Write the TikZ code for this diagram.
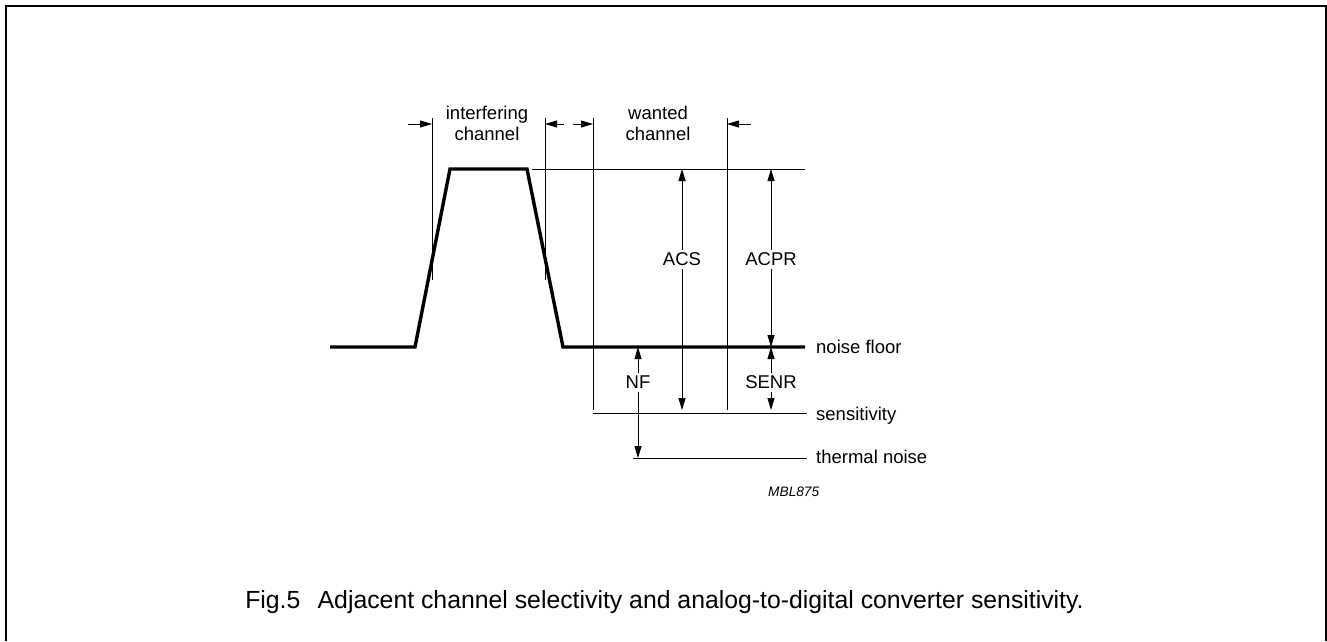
\documentclass[tikz,border=0pt]{standalone}
\usepackage{fontspec}
\setmainfont{Liberation Sans}
\usetikzlibrary{arrows.meta}
\begin{document}
\begin{tikzpicture}[x=1pt,y=-1pt,
  thinline/.style={line width=0.9pt},
  curve/.style={line width=3.4pt},
  frameline/.style={line width=2pt},
  dimarr/.style={line width=0.9pt,-{Triangle[length=12pt,width=7pt]}},
  lbl/.style={font=\fontsize{18.5}{21}\selectfont, inner sep=0pt},
  midlbl/.style={font=\fontsize{18.5}{21}\selectfont, inner sep=3pt},
]
\useasboundingbox (0,0) rectangle (1327,641);
% frame
\draw[frameline] (6,641) -- (6,6) -- (1326,6) -- (1326,641);

% spectrum curve
\coordinate (nf0) at (330,347);
\coordinate (nfA) at (415,347);
\coordinate (pk1) at (450,169);
\coordinate (pk2) at (527,169);
\coordinate (nfB) at (563,347);
\coordinate (nf1) at (805,347);
\draw[curve] (nf0) -- (nfA) -- (pk1) -- (pk2) -- (nfB) -- (nf1);

% reference lines
\coordinate (peakL) at (532,169);
\coordinate (peakR) at (805,169);
\draw[thinline] (peakL) -- (peakR);
\coordinate (senL) at (593,413);
\coordinate (senR) at (807,413);
\draw[thinline] (senL) -- (senR);
\coordinate (thL) at (633,458);
\coordinate (thR) at (807,458);
\draw[thinline] (thL) -- (thR);

% channel boundary lines
\coordinate (v1t) at (432,118); \coordinate (v1b) at (432,280);
\coordinate (v2t) at (545,118); \coordinate (v2b) at (545,280);
\coordinate (v3t) at (593,118); \coordinate (v3b) at (593,410);
\coordinate (v4t) at (727,118); \coordinate (v4b) at (727,410);
\draw[thinline] (v1t) -- (v1b);
\draw[thinline] (v2t) -- (v2b);
\draw[thinline] (v3t) -- (v3b);
\draw[thinline] (v4t) -- (v4b);

% top dimension arrows
\coordinate (a1s) at (408,124); \coordinate (a1e) at (432,124);
\coordinate (a2s) at (564,124); \coordinate (a2e) at (545,124);
\coordinate (a3s) at (573,124); \coordinate (a3e) at (593,124);
\coordinate (a4s) at (751,124); \coordinate (a4e) at (727,124);
\draw[dimarr] (a1s) -- (a1e);
\draw[dimarr] (a2s) -- (a2e);
\draw[dimarr] (a3s) -- (a3e);
\draw[dimarr] (a4s) -- (a4e);

% channel labels
\node[lbl, align=center, anchor=base] (intf) at (487,140) {interfering\\channel};
\node[lbl, align=center, anchor=base] (want) at (658,140) {wanted\\channel};

% ACS
\coordinate (acsT) at (682,169); \coordinate (acsB) at (682,410);
\node[midlbl] (acs) at (682,259.4) {ACS};
\draw[dimarr] (acs) -- (acsT);
\draw[dimarr] (acs) -- (acsB);

% ACPR
\coordinate (acprT) at (771,169); \coordinate (acprB) at (771,347);
\node[midlbl] (acpr) at (771,259.4) {ACPR};
\draw[dimarr] (acpr) -- (acprT);
\draw[dimarr] (acpr) -- (acprB);

% SENR
\coordinate (senrT) at (771,347); \coordinate (senrB) at (771,410);
\node[midlbl] (senr) at (771,382.4) {SENR};
\draw[dimarr] (senr) -- (senrT);
\draw[dimarr] (senr) -- (senrB);

% NF
\coordinate (nfT) at (638,347); \coordinate (nfBt) at (638,458);
\node[midlbl] (nf) at (638,382.4) {NF};
\draw[dimarr] (nf) -- (nfT);
\draw[dimarr] (nf) -- (nfBt);

% right labels
\node[lbl, anchor=base west] (lnf) at (816,353.5) {noise floor};
\node[lbl, anchor=base west] (lsen) at (816,420) {sensitivity};
\node[lbl, anchor=base west] (lth) at (816,463.5) {thermal noise};

% code
\node[inner sep=0pt, anchor=base west, font=\fontsize{13.7}{15}\selectfont\itshape] (code) at (768,496) {MBL875};

% caption
\node[inner sep=0pt, anchor=base, font=\fontsize{24.8}{27}\selectfont] (cap) at (664.5,608) {Fig.5\hspace{0.42em} Adjacent channel selectivity and analog-to-digital converter sensitivity.};
\end{tikzpicture}
\end{document}
